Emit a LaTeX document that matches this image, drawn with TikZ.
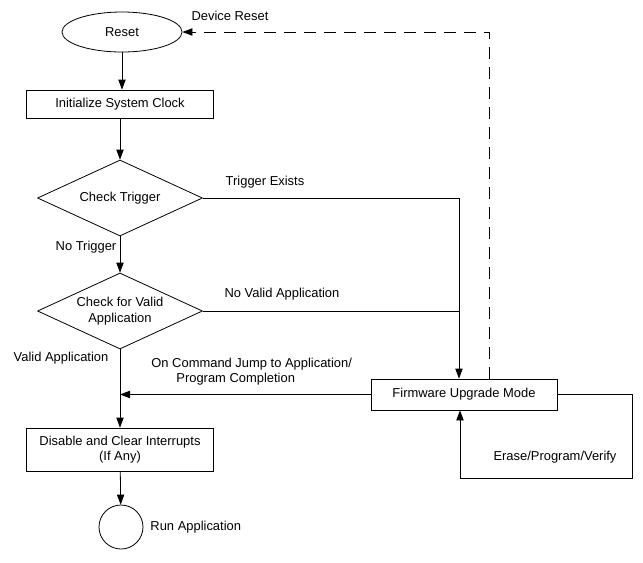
\documentclass[tikz,border=0pt]{standalone}
\usepackage{fontspec}
\setmainfont{Liberation Sans}
\usetikzlibrary{arrows.meta,shapes.geometric}

\tikzset{
  stepbox/.style={draw, rectangle, inner sep=0pt, align=center},
  decision/.style={draw, diamond, aspect=2.17, inner sep=-1pt, align=center,
    minimum width=123.75pt, minimum height=57pt},
  lbl/.style={inner sep=0pt},
}

\begin{document}
\begin{tikzpicture}[x=0.75pt,y=-0.75pt,>={Triangle[length=7.5pt,width=5.5pt]},
  line width=.6pt, font=\fontsize{9.7}{11.6}\selectfont]
\useasboundingbox (0,0) rectangle (643,562);

% main column
\node[draw, ellipse, minimum width=90pt, minimum height=30pt, inner sep=0pt] (reset) at (122,32) {Reset};
\node[stepbox, minimum width=140.25pt, minimum height=21pt] (clock) at (120,104) {Initialize System Clock};
\node[decision] (trig) at (120,198) {Check Trigger};
\node[decision] (valid) at (120,311) {Check for Valid\\Application};
\node[stepbox, minimum width=140.25pt, minimum height=32.25pt] (irq) at (120,449.5) {Disable and Clear Interrupts\\(If Any)};
\node[draw, circle, minimum size=33pt, inner sep=0pt] (run) at (121,527) {};

% firmware side
\node[stepbox, minimum width=139.5pt, minimum height=23.25pt] (fw) at (464,394.5) {Firmware Upgrade Mode};
\coordinate (jT) at (459,198);
\coordinate (jV) at (459,311);
\coordinate (dC) at (489,32);
\coordinate (lA) at (632,394.5);
\coordinate (lB) at (632,478);
\coordinate (lC) at (460,478);

\draw[->] (reset) -- (reset |- clock.north);
\draw[->] (clock) -- (trig);
\draw[->] (trig) -- (valid);
\draw[->] (valid) -- (irq);
\draw[->] (irq) -- (run);

\draw (trig.east) -- (jT);
\draw (valid.east) -- (jV);
\draw[->] (jT) -- (jT |- fw.north);
\draw[->] (fw.west) -- (fw.west -| irq.north);
\draw[->] (fw.east) -- (lA) -- (lB) -- (lC) -- (lC |- fw.south);
\draw[->, dash pattern=on 9pt off 6pt] (dC |- fw.north) -- (dC) -- (reset.east);

% labels
\node[lbl] (lDev) at (230,16) {Device Reset};
\node[lbl] (lTE) at (265,182) {Trigger Exists};
\node[lbl] (lNT) at (86,247) {No Trigger};
\node[lbl] (lNV) at (282,294) {No Valid Application};
\node[lbl] (lVA) at (61,358) {Valid Application};
\node[lbl, anchor=west, align=left] (lJump) at (151,371.5) {On Command Jump to Application/\\\hspace*{18.75pt}Program Completion};
\node[lbl] (lEPV) at (555,457) {Erase/Program/Verify};
\node[lbl, anchor=west, xshift=5pt] (lRun) at (run.east) {Run Application};
\end{tikzpicture}
\end{document}
